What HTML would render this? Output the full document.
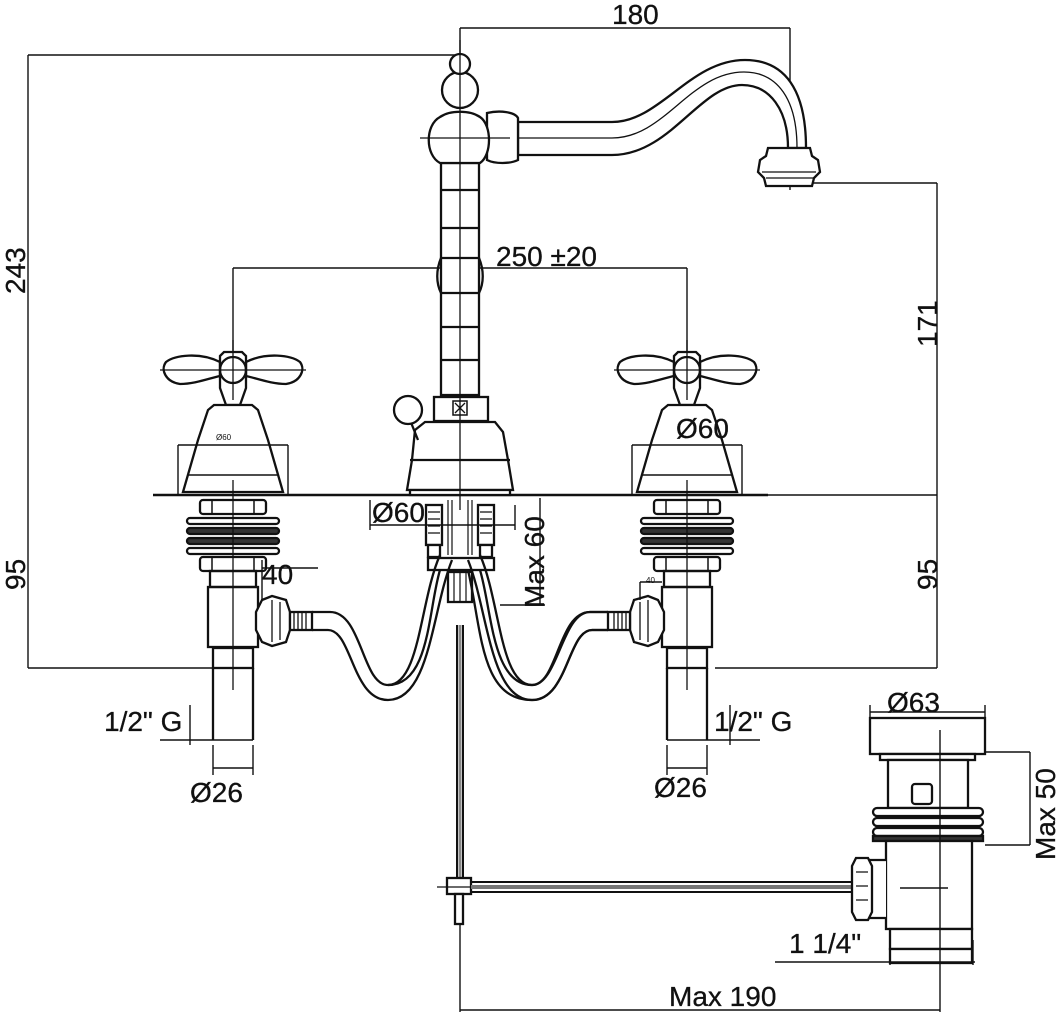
<!DOCTYPE html>
<html><head><meta charset="utf-8"><style>
html,body{margin:0;padding:0;background:#fff}
svg{display:block}
text{font-family:"Liberation Sans",sans-serif;fill:#111;stroke:#111;stroke-width:0.3}
</style></head><body>
<svg width="1058" height="1024" viewBox="0 0 1058 1024" xmlns="http://www.w3.org/2000/svg">
<defs>
<g id="valve" fill="none" stroke="#111" stroke-width="2.3">
  <path d="M220,362 C200,352 175,355 166,362 C160,370 166,382 180,384 C195,384 210,378 220,376 Z" fill="#fff"/>
  <path d="M246,362 C266,352 291,355 300,362 C306,370 300,382 286,384 C271,384 256,378 246,376 Z" fill="#fff"/>
  <path d="M220,356 L224,352 L242,352 L246,356 L246,388 L240,405 L226,405 L220,388 Z" fill="#fff"/>
  <circle cx="233" cy="370" r="13"/>
  <path d="M214,405 L252,405 L258,410 L268,440 L283,492 L183,492 L198,440 L208,410 Z" fill="#fff"/>
  <path d="M178,445 L178,495 M288,445 L288,495 M178,445 L288,445" stroke-width="1.4"/>
  <path d="M188,475 L278,475" stroke-width="1.4"/>
  <rect x="200" y="500" width="66" height="14" rx="3"/>
  <path d="M212,500 v14 M254,500 v14" stroke-width="1.5"/>
  <rect x="187" y="518" width="92" height="6" rx="3"/>
  <rect x="187" y="528" width="92" height="6" rx="3" fill="#333"/>
  <rect x="187" y="538" width="92" height="6" rx="3" fill="#333"/>
  <rect x="187" y="548" width="92" height="6" rx="3"/>
  <rect x="200" y="557" width="66" height="14" rx="3"/>
  <path d="M212,557 v14 M254,557 v14" stroke-width="1.5"/>
  <rect x="210" y="571" width="46" height="16"/>
  <rect x="208" y="587" width="50" height="60"/>
  <rect x="213" y="648" width="40" height="20"/>
  <path d="M213,668 L213,740 M253,668 L253,740"/>
  <path d="M258,606 L278,606 L278,636 L258,636" />
  <path d="M262,600 L272,596 L286,600 L290,612 L290,630 L286,642 L272,646 L262,642 L256,630 L256,612 Z" fill="#fff"/>
  <path d="M272,600 v42 M280,602 v38" stroke-width="1.3"/>
  <rect x="290" y="612" width="22" height="18" fill="#fff"/>
  <path d="M294,612 v18 M298,612 v18 M302,612 v18 M306,612 v18" stroke-width="1.3"/>
  <path d="M312,612 L330,612 C362,612 362,685 388,685 C420,685 420,600 440,555" />
  <path d="M312,630 L328,630 C352,630 352,700 388,700 C430,700 432,610 452,560" />
  <path d="M233,340 L233,400 M233,480 L233,690" stroke-width="1.3"/>
  <path d="M160,370 L306,370" stroke-width="1.3"/>
</g>
</defs>

<g fill="none" stroke="#111">
<g stroke-width="1.4">
  <path d="M460,28 L790,28 M460,28 L460,55 M790,28 L790,190"/>
  <path d="M28,55 L455,55 M28,55 L28,668 M28,668 L215,668"/>
  <path d="M805,183 L937,183 M937,183 L937,668 M715,668 L937,668"/>
  <path d="M233,268 L687,268 M233,268 L233,355 M687,268 L687,355"/>
</g>
<path d="M153,495 L768,495" stroke-width="2.6"/>
<path d="M768,495 L937,495" stroke-width="1.4"/>

<g stroke-width="2.3" fill="#fff">
  <path d="M518,122 L612,122 C660,122 690,60 745,60 C785,60 806,90 806,148 L788,148 C788,110 770,85 742,85 C700,85 670,155 612,155 L518,155 Z"/>
  <path d="M518,138 L612,138 C665,138 690,72 744,72 C778,72 797,100 797,148" fill="none" stroke-width="1.3"/>
  <path d="M768,148 L810,148 L812,156 L818,160 L820,172 L814,178 L812,186 L766,186 L764,178 L758,172 L760,160 L766,156 Z"/>
  <path d="M762,172 L816,172 M766,178 L814,178" fill="none" stroke-width="1.3"/>
  <path d="M441,163 L479,163 L479,395 L441,395 Z"/>
  <path d="M441,190 h38 M441,228 h38 M441,258 h38 M441,293 h38 M441,327 h38 M441,360 h38" fill="none"/>
  <path d="M441,258 C436,270 436,283 441,293 M479,258 C484,270 484,283 479,293" fill="none"/>
  <path d="M487,113 C500,110 515,112 518,118 L518,160 C510,164 495,164 487,160 Z"/>
  <path d="M440,117 C425,125 425,155 440,163 L480,163 C492,155 492,125 480,117 C470,110 450,110 440,117 Z"/>
  <circle cx="460" cy="90" r="18"/>
  <circle cx="460" cy="64" r="10"/>
  <rect x="434" y="397" width="54" height="24"/>
  <rect x="453" y="401" width="14" height="14" fill="none" stroke-width="1.5"/>
  <path d="M455,403 l10,10 M465,403 l-10,10" stroke-width="1.3"/>
  <path d="M415,430 L425,422 L495,422 L503,432 L508,460 L513,490 L407,490 L412,460 Z"/>
  <path d="M410,460 L510,460" fill="none"/>
  <path d="M418,440 L410,420" fill="none"/>
  <circle cx="408" cy="410" r="14"/>
  <path d="M410,490 L510,490 L510,495 L410,495 Z"/>
</g>
<path d="M460,40 L460,510" stroke-width="1.3"/>
<path d="M420,138 L510,138" stroke-width="1.3"/>

<g stroke-width="2.3" fill="#fff">
  <rect x="426" y="505" width="16" height="40"/>
  <rect x="478" y="505" width="16" height="40"/>
  <path d="M428,512 h12 M428,519 h12 M428,526 h12 M428,533 h12 M480,512 h12 M480,519 h12 M480,526 h12 M480,533 h12" fill="none" stroke-width="1.3"/>
  <rect x="428" y="545" width="12" height="12"/>
  <rect x="480" y="545" width="12" height="12"/>
  <rect x="428" y="558" width="66" height="12"/>
  <rect x="448" y="572" width="24" height="30"/>
  <path d="M454,572 v30 M460,572 v30 M466,572 v30" fill="none" stroke-width="1.2"/>
  <path d="M448,500 v55 M452,500 v55 M468,500 v55 M472,500 v55" fill="none" stroke-width="1.2"/>
</g>
<path d="M480,570 C492,610 492,685 532,685 C558,685 562,612 590,612 L608,612" stroke-width="2.3"/>
<path d="M468,570 C482,630 480,700 532,700 C568,700 568,630 592,630 L608,630" stroke-width="2.3"/>
<path d="M440,570 C428,610 430,685 388,685" stroke-width="2.3"/>

<use href="#valve"/>
<use href="#valve" transform="translate(920,0) scale(-1,1)"/>

<g stroke-width="1.4">
  <path d="M160,740 L253,740 M190,705 L190,745 M213,745 L213,775 M253,745 L253,775 M213,768 L253,768"/>
  <path d="M262,560 L262,600 M262,568 L318,568"/>
  <path d="M760,740 L667,740 M730,705 L730,745 M667,745 L667,775 M707,745 L707,775 M667,768 L707,768"/>
  <path d="M640,582 L662,582 M640,582 L640,600"/>
  <path d="M370,500 L370,530 M370,525 L515,525 M515,505 L515,530"/>
  <path d="M500,605 L545,605 M540,498 L540,605"/>
</g>

<path d="M457,625 L457,880 M463,625 L463,880" stroke-width="2"/>
<path d="M460,625 L460,880" stroke="#888" stroke-width="3"/>
<rect x="447" y="878" width="24" height="16" fill="#fff" stroke-width="2.3"/>
<rect x="455" y="894" width="8" height="30" fill="#fff" stroke-width="2.3"/>
<path d="M437,887 L480,887" stroke-width="1.3"/>
<path d="M471,882 L852,882 M471,892 L852,892" stroke-width="2"/>
<path d="M471,887 L852,887" stroke="#777" stroke-width="4"/>

<g stroke-width="2.3" fill="#fff">
  <rect x="870" y="718" width="115" height="36"/>
  <rect x="880" y="754" width="95" height="6"/>
  <rect x="888" y="760" width="80" height="48"/>
  <rect x="912" y="784" width="20" height="20" rx="3"/>
  <rect x="873" y="808" width="110" height="8" rx="4"/>
  <rect x="873" y="818" width="110" height="8" rx="4"/>
  <rect x="873" y="828" width="110" height="8" rx="4"/>
  <rect x="873" y="836" width="110" height="5" fill="#333"/>
  <rect x="886" y="841" width="86" height="88"/>
  <path d="M886,860 L868,860 L868,918 L886,918"/>
  <path d="M856,858 L868,858 L872,866 L872,912 L868,920 L856,920 L852,912 L852,866 Z"/>
  <path d="M856,872 h12 M856,886 h12 M856,900 h12" fill="none" stroke-width="1.3"/>
  <rect x="890" y="929" width="82" height="20"/>
  <rect x="890" y="949" width="82" height="14"/>
</g>
<g stroke-width="1.4">
  <path d="M940,730 L940,1012 M900,888 L948,888"/>
  <path d="M870,705 L870,718 M985,705 L985,718 M870,712 L985,712"/>
  <path d="M985,752 L1030,752 M985,845 L1030,845 M1030,752 L1030,845"/>
  <path d="M775,962 L975,962 M890,940 L890,965 M973,940 L973,965"/>
  <path d="M460,924 L460,1012 M460,1010 L940,1010"/>
</g>
</g>

<g font-size="28">
  <text x="612" y="24">180</text>
  <text x="496" y="266">250 ±20</text>
  <text x="676" y="438">Ø60</text>
  <text x="372" y="522">Ø60</text>
  <text x="262" y="584">40</text>
  <text x="104" y="731">1/2" G</text>
  <text x="714" y="731">1/2" G</text>
  <text x="190" y="802">Ø26</text>
  <text x="654" y="797">Ø26</text>
  <text x="887" y="712">Ø63</text>
  <text x="789" y="953">1 1/4"</text>
  <text x="669" y="1006">Max 190</text>
  <text transform="translate(25,294) rotate(-90)">243</text>
  <text transform="translate(25,590) rotate(-90)">95</text>
  <text transform="translate(937,347) rotate(-90)">171</text>
  <text transform="translate(937,590) rotate(-90)">95</text>
  <text transform="translate(544,608) rotate(-90)">Max 60</text>
  <text transform="translate(1055,860) rotate(-90)">Max 50</text>
</g>
<text x="216" y="440" font-size="8" style="stroke:none">Ø60</text>
<text x="646" y="583" font-size="8" style="stroke:none">40</text>
</svg>
</body></html>
